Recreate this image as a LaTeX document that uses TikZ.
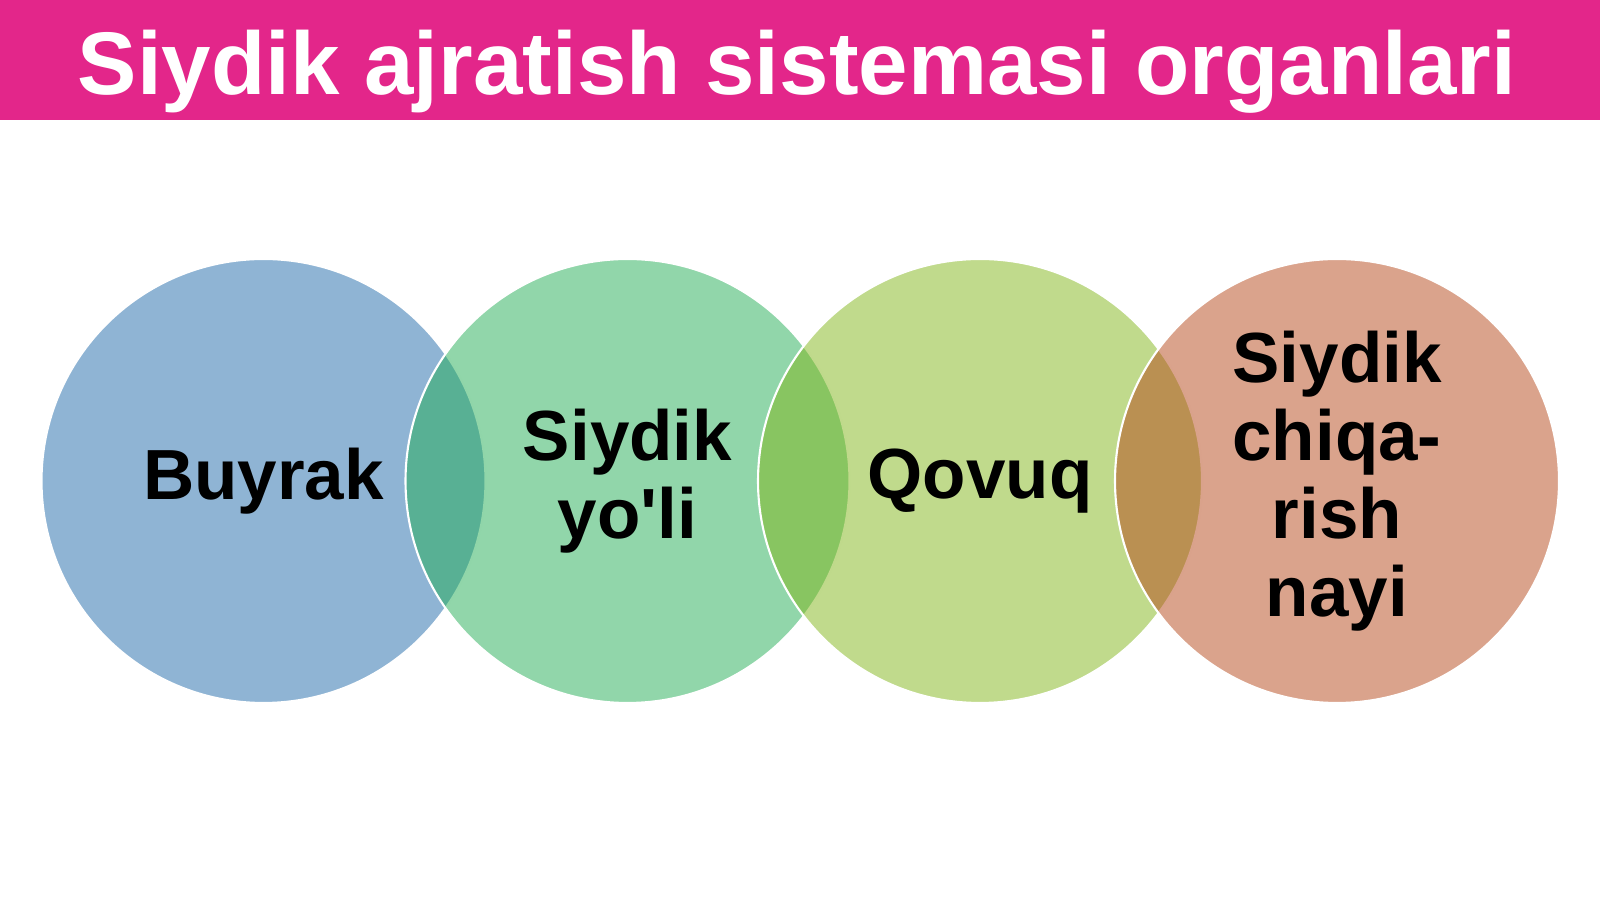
\documentclass[tikz,border=0pt]{standalone}
\usepackage{fontspec}
\setmainfont{Liberation Sans}
\definecolor{barpink}{RGB}{227,38,138}
\definecolor{kidneyblue}{RGB}{31,105,169}
\definecolor{uretergreen}{RGB}{35,173,85}
\definecolor{bladderlime}{RGB}{129,181,25}
\definecolor{urethrared}{RGB}{181,71,25}
\begin{document}
\begin{tikzpicture}[line join=round, font=\bfseries]
	\tikzset{organ/.style={circle, minimum size=4.44cm, inner sep=0pt, draw=white, line width=0.6pt,
		fill opacity=0.5, text opacity=1, align=center, font=\fontsize{20.2}{22.2}\selectfont\bfseries}}
	\useasboundingbox (0,0) rectangle (16,-8.99);
	\fill[barpink] (0,0) rectangle (16,-1.2);
	\node[text=white, font=\fontsize{25.3}{30}\selectfont\bfseries] (title) at (7.97,-0.72) {Siydik ajratish sistemasi organlari};
	% organs
	\node[organ, fill=kidneyblue] (buyrak) at (2.635,-4.81) {Buyrak};
	\node[organ, fill=uretergreen] (yoli) at (6.275,-4.81) {Siydik\\yo\textquotesingle li};
	\node[organ, fill=bladderlime] (qovuq) at (9.8,-4.81) {Qovuq};
	\node[organ, fill=urethrared] (nay) at (13.37,-4.81) {Siydik\\chiqa-\\rish\\nayi};
\end{tikzpicture}
\end{document}
